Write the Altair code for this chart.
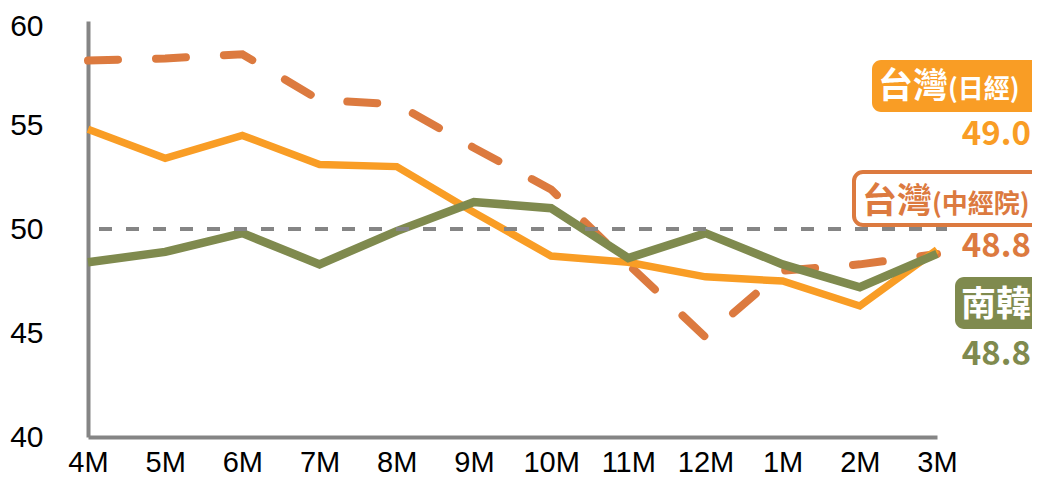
import altair as alt
import pandas as pd

months = ["4M", "5M", "6M", "7M", "8M", "9M", "10M", "11M", "12M", "1M", "2M", "3M"]
tw_nikkei = [54.8, 53.4, 54.5, 53.1, 53.0, 50.8, 48.7, 48.4, 47.7, 47.5, 46.3, 49.0]
tw_cier = [58.1, 58.2, 58.4, 56.2, 56.0, 53.9, 51.9, 48.3, 44.8, 48.0, 48.3, 48.8]
korea = [48.4, 48.9, 49.8, 48.3, 49.9, 51.3, 51.0, 48.6, 49.8, 48.3, 47.2, 48.8]
y_ticks = [40, 45, 50, 55, 60]
threshold = 50

C_NIKKEI = "#F99D25"
C_CIER = "#DC7A3F"
C_KOREA = "#7F8A4E"
C_GRAY = "#858585"

df_n = pd.DataFrame({"month": months, "value": tw_nikkei})
df_c = pd.DataFrame({"month": months, "value": tw_cier})
df_k = pd.DataFrame({"month": months, "value": korea})
one = pd.DataFrame({"a": [0]})

x_enc = alt.X("month:N", sort=months, scale=alt.Scale(type="point", padding=0),
              axis=alt.Axis(title=None, domainColor=C_GRAY, domainWidth=4, ticks=False,
                            labelFont="Liberation Sans", labelFontSize=29, labelColor="black",
                            labelBaseline="alphabetic", labelPadding=34, labelAngle=0,
                            grid=False))
y_enc = alt.Y("value:Q", scale=alt.Scale(domain=[40, 60], nice=False, zero=False),
              axis=alt.Axis(title=None, values=y_ticks, domainColor=C_GRAY, domainWidth=4,
                            ticks=False, labelFont="Liberation Sans", labelFontSize=30,
                            labelColor="black", labelPadding=45, grid=False,
                            labelOffset={"condition": {"test": "datum.value == 60", "value": 5},
                                         "value": 0}))

cier = alt.Chart(df_c).mark_line(color=C_CIER, strokeWidth=8, strokeDash=[30, 38],
                                 strokeCap="round").encode(x=x_enc, y=y_enc)
nikkei = alt.Chart(df_n).mark_line(color=C_NIKKEI, strokeWidth=7.5).encode(
    x=alt.X("month:N", sort=months), y="value:Q")
kor = alt.Chart(df_k).mark_line(color=C_KOREA, strokeWidth=8.5).encode(
    x=alt.X("month:N", sort=months), y="value:Q")
ref = alt.Chart(pd.DataFrame({"v": [threshold]})).mark_rule(
    color=C_GRAY, strokeWidth=4, strokeDash=[13, 14], strokeDashOffset=16).encode(
    y=alt.Y("v:Q"), x=alt.value(0), x2=alt.value(859))

FONT_CJK = "Noto Sans CJK TC"

def box(x, x2, y, y2, fill, stroke=None):
    kw = dict(fill=fill, cornerRadius=9)
    if stroke:
        kw.update(stroke=stroke, strokeWidth=4)
    return alt.Chart(one).mark_rect(**kw).encode(
        x=alt.value(x), x2=alt.value(x2), y=alt.value(y), y2=alt.value(y2))

def label(text, x, y, size, color, align="left", font=FONT_CJK):
    return alt.Chart(one).mark_text(text=text, font=font, fontSize=size, fontWeight="bold",
                                    color=color, align=align, baseline="alphabetic").encode(
        x=alt.value(x), y=alt.value(y))

annos = [
    box(784, 965, 39, 91, C_NIKKEI),
    label("台灣", 790, 77, 35, "white"),
    label("(日經)", 860, 77, 26, "white"),
    label(f"{tw_nikkei[-1]:.1f}", 943, 124, 33, C_NIKKEI, align="right"),
    box(766, 975, 151, 204, "white", stroke=C_CIER),
    label("台灣", 774, 192, 35, C_CIER),
    label("(中經院)", 844, 192, 26, C_CIER),
    label(f"{tw_cier[-1]:.1f}", 943, 236, 33, C_CIER, align="right"),
    box(867, 965, 256, 308, C_KOREA),
    label("南韓", 873, 295, 35, "white"),
    label(f"{korea[-1]:.1f}", 943, 344, 33, C_KOREA, align="right"),
]

chart = alt.layer(cier, nikkei, kor, ref, *annos).properties(
    width=849, height=416,
    autosize=alt.AutoSizeParams(type="none"),
    padding={"left": 80, "top": 13, "right": 95, "bottom": 42},
).configure_view(stroke=None)

chart.save("out.html", embed_options={"renderer": "svg", "actions": False})
